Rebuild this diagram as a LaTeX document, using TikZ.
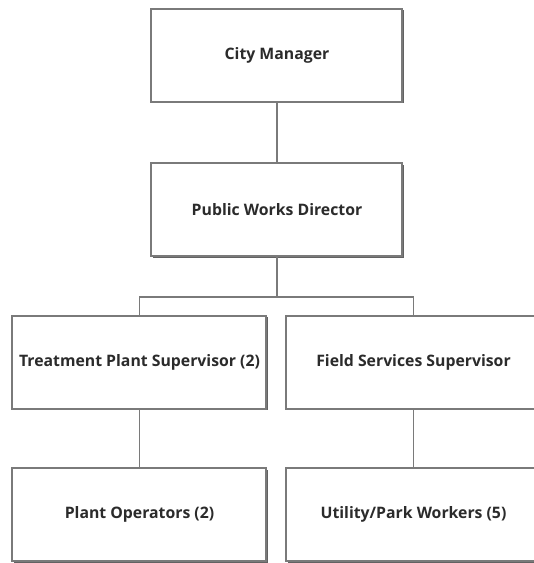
\documentclass[tikz,border=0pt]{standalone}
\usepackage{fontspec}
\setmainfont{Open Sans}
\usetikzlibrary{shadows}

\definecolor{boxline}{HTML}{7A7A7A}
\definecolor{boxtext}{HTML}{2B2B2B}

\begin{document}
\begin{tikzpicture}[x=1pt, y=1pt, node distance=152.5pt,
  box/.style={rectangle, draw=boxline, line width=2pt, fill=white, minimum width=254pt, minimum height=93pt, inner sep=2pt, font=\fontsize{15.8}{18}\selectfont\bfseries, text=boxtext, drop shadow={shadow xshift=1.8pt, shadow yshift=-1.8pt, fill=boxline!80!black, opacity=1}},
  link/.style={draw=boxline, line width=1.6pt}]

  \useasboundingbox (-277,55) rectangle (257,-508);

  \node[box, minimum width=251pt] (cm) {City Manager};
  \node[box, minimum width=251pt, below of=cm, node distance=154.5pt] (pwd) {Public Works Director};
  \node[coordinate, below of=pwd, node distance=87.5pt] (bus) {};

  \node[box, below of=pwd, xshift=-137.5pt] (tps) {Treatment Plant Supervisor (2)};
  \node[box, right of=tps, node distance=274pt] (fss) {Field Services Supervisor};
  \node[box, below of=tps] (po) {Plant Operators (2)};
  \node[box, right of=po, node distance=274pt] (upw) {Utility/Park Workers (5)};

  \draw[link] (cm) -- (pwd);
  \draw[link] (pwd) -- (bus);
  \draw[link] (tps.north) |- (bus) -| (fss.north);
  \draw[link] (tps) -- (po);
  \draw[link] (fss) -- (upw);
\end{tikzpicture}
\end{document}
